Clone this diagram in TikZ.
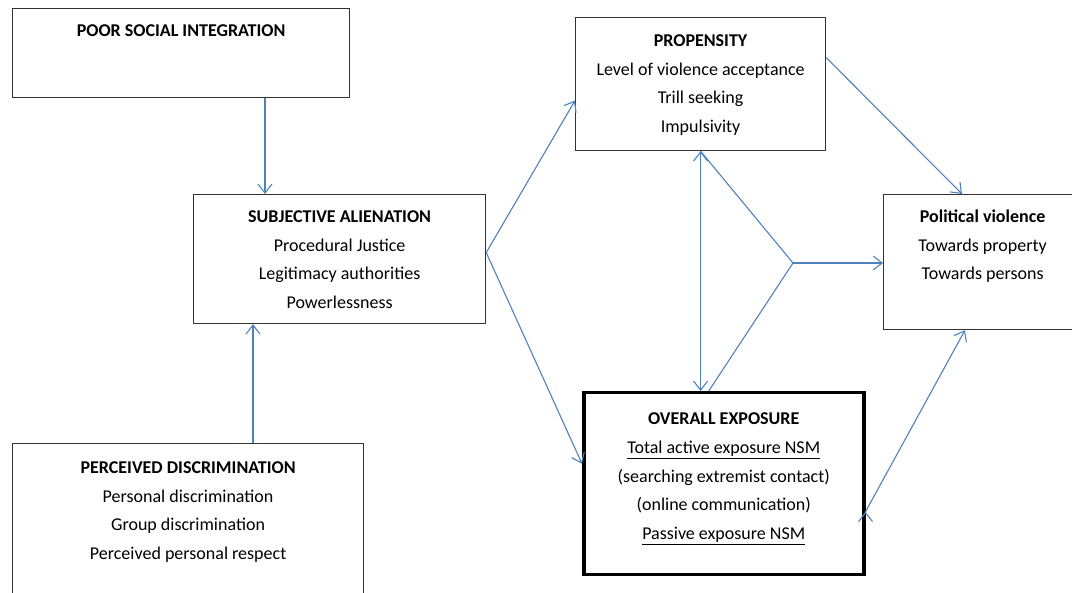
\documentclass[tikz,border=0pt]{standalone}
\usepackage{fontspec}
\setmainfont{Carlito}
\usetikzlibrary{arrows.meta,calc,positioning}
\definecolor{linkblue}{RGB}{79,129,189}
\newcommand{\boxlines}[1]{\begin{tabular}[t]{@{}c@{}}#1\end{tabular}}

\begin{document}
\begin{tikzpicture}[x=1pt,y=-1pt,->,>={Straight Barb[length=9pt,width=14pt]},
                    semithick]
  \tikzstyle{every node}=[font=\fontsize{18}{28.7}\selectfont]
  \tikzstyle{box}=[draw=black!80,line width=1.2pt,inner sep=0pt,anchor=north west]
  \tikzstyle{link}=[draw=linkblue,line width=1.1pt]

  \useasboundingbox (0,0) rectangle (1072,593);

  \node[box,minimum width=337pt,text height=28pt,text depth=61pt] (poor) at (12,8)
    {\boxlines{\textbf{POOR SOCIAL INTEGRATION}}};
  \node[box,minimum width=292pt,text height=28pt,text depth=101pt] (subj) at (193,194)
    {\boxlines{\textbf{SUBJECTIVE ALIENATION}\\Procedural Justice\\Legitimacy authorities\\Powerlessness}};
  \node[box,minimum width=351pt,text height=30pt,text depth=127pt] (perc) at (12,443)
    {\boxlines{\textbf{PERCEIVED DISCRIMINATION}\\Personal discrimination\\Group discrimination\\Perceived personal respect}};
  \node[box,minimum width=250pt,text height=29pt,text depth=104pt] (prop) at (575,17)
    {\boxlines{\textbf{PROPENSITY}\\Level of violence acceptance\\Trill seeking\\Impulsivity}};
  \node[box,minimum width=198pt,text height=28pt,text depth=107pt] (pol) at (883,194)
    {\boxlines{\textbf{Political violence}\\Towards property\\Towards persons}};
  \node[box,line width=3.5pt,draw=black,minimum width=280pt,text height=32pt,text depth=150pt] (over) at (582,391)
    {\boxlines{\textbf{OVERALL EXPOSURE}\\\underline{Total active exposure NSM}\\(searching extremist contact)\\(online communication)\\\underline{Passive exposure NSM}}};

  \coordinate (mod) at (793,263);

  \path[link] ($(poor.south -| subj.north west)+(72,0)$) edge ($(subj.north west)+(72,0)$)
              ($(perc.north -| subj.south west)+(60,0)$) edge ($(subj.south west)+(60,0)$)
              ($(subj.east)+(0,-6.5)$) edge ($(prop.west)+(0,16.5)$)
                                      edge ($(over.west)+(0,-20)$)
              (prop.south) edge[<->] (prop.south |- over.north)
                           edge[-] (mod)
              ($(over.north)+(-15,0)$) edge[-] (mod)
              (mod) edge (mod -| pol.west)
              ($(prop.east)+(0,-26.5)$) edge ($(pol.north west)+(79,0)$)
              ($(over.east)+(0,28)$) edge ($(pol.south west)+(82,0)$);
\end{tikzpicture}
\end{document}
